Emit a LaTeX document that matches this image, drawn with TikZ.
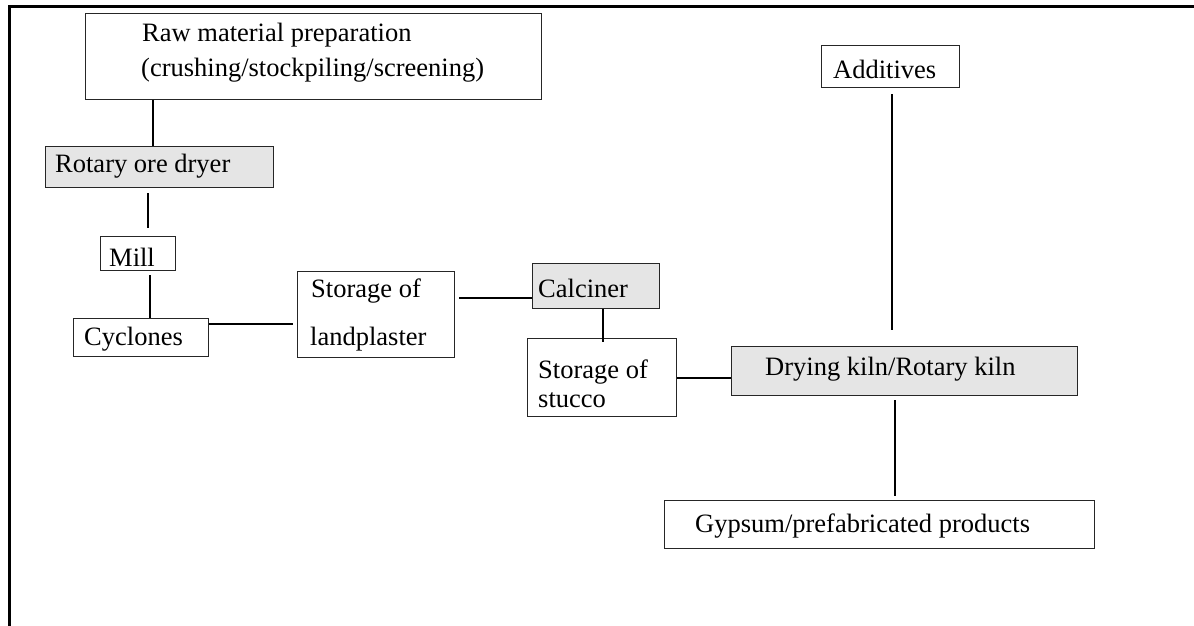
\documentclass[tikz,border=0pt]{standalone}
\usepackage{fontspec}
\setmainfont{Liberation Serif}
\begin{document}
\begin{tikzpicture}[x=1pt,y=-1pt,
  box/.style={draw=black!85, line width=1.2pt, inner sep=0pt, anchor=north west},
  graybox/.style={box, fill=black!10},
  txt/.style={anchor=base west, inner sep=0pt, font=\fontsize{26.5}{30}\selectfont},
  conn/.style={line width=2.5pt, black},
  frameline/.style={line width=3pt, black}]
\useasboundingbox (0,0) rectangle (1194,626);
\draw[frameline] (1194,7) -- (9,7) -- (9,626);
% boxes
\node[box, minimum width=456pt, minimum height=86pt] (raw) at (85,13) {};
\node[graybox, minimum width=228pt, minimum height=41pt] (rot) at (45,146) {};
\node[box, minimum width=75pt, minimum height=34pt] (mill) at (100,236) {};
\node[box, minimum width=135pt, minimum height=38pt] (cyc) at (73,318) {};
\node[box, minimum width=157pt, minimum height=86pt] (land) at (297,271) {};
\node[graybox, minimum width=127pt, minimum height=45pt] (calc) at (532,263) {};
\node[box, minimum width=149pt, minimum height=78pt] (stuc) at (527,338) {};
\node[graybox, minimum width=346pt, minimum height=49pt] (dry) at (731,346) {};
\node[box, minimum width=430pt, minimum height=48pt] (gyp) at (664,500) {};
\node[box, minimum width=138pt, minimum height=42pt] (add) at (821,45) {};
% texts
\node[txt] (rawA) at (142,42) {Raw material preparation};
\node[txt] (rawB) at (141,77) {(crushing/stockpiling/screening)};
\node[txt] (rotT) at (55,172) {Rotary ore dryer};
\node[txt] (millT) at (109,266) {Mill};
\node[txt] (cycT) at (84,345) {Cyclones};
\node[txt] (landA) at (311,297) {Storage of};
\node[txt] (landB) at (310,345) {landplaster};
\node[txt] (calcT) at (538,297) {Calciner};
\node[txt] (stucA) at (538,378) {Storage of};
\node[txt] (stucB) at (538,407) {stucco};
\node[txt] (dryT) at (765,375) {Drying kiln/Rotary kiln};
\node[txt] (gypT) at (695,532) {Gypsum/prefabricated products};
\node[txt] (addT) at (833,78) {Additives};
% connectors
\draw[conn] ([xshift=68pt]raw.south west) -- ([xshift=68pt]raw.south west |- rot.north);
\draw[conn, shorten <=5pt, shorten >=8pt] ([xshift=103pt]rot.south west) -- ([xshift=103pt]rot.south west |- mill.north);
\draw[conn, shorten <=4pt] ([xshift=50pt]mill.south west) -- ([xshift=50pt]mill.south west |- cyc.north);
\draw[conn, shorten >=4pt] ([yshift=-6pt]cyc.north east) -- ([yshift=-6pt]cyc.north east -| land.west);
\draw[conn, shorten >=4pt] ([yshift=-35pt]calc.north west) -- ([yshift=-35pt]calc.north west -| land.east);
\draw[conn, shorten >=-4pt] ([xshift=71pt]calc.south west) -- ([xshift=71pt]calc.south west |- stuc.north);
\draw[conn] ([yshift=-32pt]dry.north west) -- ([yshift=-32pt]dry.north west -| stuc.east);
\draw[conn, shorten <=6pt, shorten >=16pt] ([xshift=71pt]add.south west) -- ([xshift=71pt]add.south west |- dry.north);
\draw[conn, shorten <=4pt, shorten >=4pt] ([xshift=164pt]dry.south west) -- ([xshift=164pt]dry.south west |- gyp.north);
\end{tikzpicture}
\end{document}
